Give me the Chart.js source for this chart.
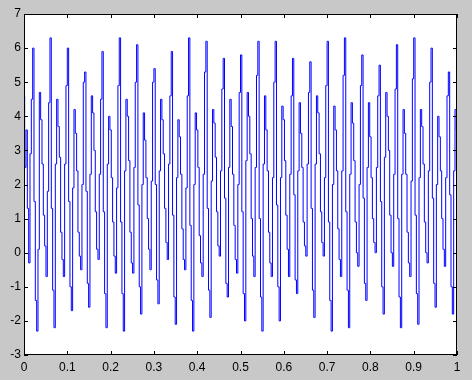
<!DOCTYPE html>
<html>
<head>
<meta charset="utf-8">
<script src="https://cdn.jsdelivr.net/npm/chart.js@4.4.0/dist/chart.umd.min.js"></script>
<style>
  body { margin: 0; background: #c8c8c8; }
  canvas { display: block; }
</style>
</head>
<body>
<canvas id="signalChart" width="472" height="380"></canvas>
<script>
// signal values, one sample every 1/325 s
const signal = [
  4.6, 2.5, 3.6, 1.3, -0.3, 2.9, 4.5,
  6.0, 1.5, -1.4, -2.3, 0.1, 4.7, 3.9, 2.6, 1.1, 0.2, -0.7, 1.8, 4.4,
  6.3, 1.3, -1.1, -2.2, 2.6, 4.5, 3.7, 2.8, 0.6, -0.2, -0.7, 2.6, 4.9,
  6.0, 1.5, -1.0, -1.7, 1.9, 4.2, 3.5, 2.4, 0.6, -0.1, -0.5, 2.0, 5.0,
  5.3, 1.8, -0.9, -1.6, 2.3, 4.6, 4.1, 3.0, 1.2, 0.1, -0.2, 2.3, 4.5,
  5.9, 1.2, -1.2, -2.2, 2.6, 4.0, 3.6, 2.2, 0.9, -0.1, -0.6, 1.9, 4.9,
  6.3, 0.9, -1.2, -2.3, 2.4, 4.5, 4.0, 2.7, 0.6, -0.3, -0.6, 2.5, 5.0,
  6.1, 1.4, -1.0, -1.8, 2.0, 4.1, 3.3, 2.2, 1.0, 0.1, -0.5, 2.1, 5.0,
  5.4, 2.0, -0.8, -1.5, 2.4, 4.5, 3.9, 2.9, 1.3, 0.3, -0.2, 2.6, 4.6,
  5.9, 1.1, -1.3, -2.1, 2.2, 3.9, 3.4, 2.3, 0.7, -0.2, -0.5, 1.9, 4.6,
  6.3, 0.8, -1.4, -2.3, 2.0, 4.1, 3.6, 2.5, 0.5, -0.3, -0.7, 2.3, 5.3,
  6.2, 1.3, -1.1, -1.9, 2.1, 4.2, 3.8, 2.8, 1.2, 0.2, -0.1, 2.4, 4.8,
  5.7, 1.6, -0.9, -1.3, 2.5, 4.5, 3.7, 2.3, 0.8, -0.2, -0.6, 2.0, 4.7,
  5.8, 1.2, -1.2, -2.0, 2.7, 4.7, 4.0, 2.9, 1.0, -0.1, -0.7, 2.5, 5.2,
  6.2, 1.0, -1.3, -2.3, 2.6, 4.6, 3.6, 2.4, 0.6, -0.3, -0.7, 2.2, 5.0,
  6.2, 1.4, -1.0, -2.0, 2.2, 4.3, 3.9, 2.7, 1.1, 0.1, -0.7, 2.3, 4.6,
  5.7, 1.7, -0.8, -1.2, 2.4, 4.4, 3.5, 2.5, 0.9, 0.2, -0.1, 2.6, 4.7,
  5.6, 1.3, -1.1, -1.9, 2.6, 4.6, 4.1, 2.9, 1.2, 0.3, -0.1, 2.2, 4.9,
  6.2, 0.9, -1.4, -2.3, 2.0, 4.3, 3.6, 2.4, 0.7, -0.2, -0.7, 2.4, 5.2,
  6.3, 1.2, -1.1, -2.2, 2.3, 4.4, 3.8, 2.7, 0.9, 0.0, -0.4, 2.0, 4.9,
  5.8, 1.6, -0.9, -1.4, 2.5, 4.4, 3.4, 2.2, 1.0, 0.3, 0.0, 2.5, 4.6,
  5.5, 1.5, -1.0, -1.8, 2.8, 4.7, 4.0, 3.0, 1.1, 0.0, -0.4, 2.3, 4.8,
  6.1, 1.0, -1.3, -2.2, 2.3, 4.2, 3.5, 2.3, 0.6, -0.3, -0.7, 2.1, 5.1,
  6.3, 1.1, -1.2, -2.1, 2.2, 4.2, 3.7, 2.6, 0.9, 0.0, -0.3, 2.4, 5.0,
  6.0, 1.6, -0.9, -1.6, 2.0, 4.0, 3.4, 2.4, 1.0, 0.1, -0.4, 2.2, 4.6,
  5.3, 1.7, -1.0, -1.8, 2.4, 4.2, 3.6
];
const sampleStep = 1 / 325;
const xTicks = [0, 0.1, 0.2, 0.3, 0.4, 0.5, 0.6, 0.7, 0.8, 0.9, 1];
const yTicks = [-3, -2, -1, 0, 1, 2, 3, 4, 5, 6, 7];

const points = signal.map((v, i) => ({ x: i * sampleStep, y: v }));

// grey figure + white axes box
const axesBackground = {
  id: 'axesBackground',
  beforeDraw(chart) {
    const { ctx, chartArea: a } = chart;
    ctx.save();
    ctx.fillStyle = '#c8c8c8';
    ctx.fillRect(0, 0, chart.width, chart.height);
    ctx.fillStyle = '#ffffff';
    ctx.fillRect(a.left, a.top, a.width, a.height);
    ctx.restore();
  }
};

// matlab style box with inward ticks on all four sides
const boxTicks = {
  id: 'boxTicks',
  afterDraw(chart) {
    const { ctx, chartArea: a, scales } = chart;
    const len = 4;
    ctx.save();
    ctx.strokeStyle = '#000';
    ctx.lineWidth = 1;
    ctx.beginPath();
    xTicks.forEach(t => {
      const px = Math.round(scales.x.getPixelForValue(t)) + 0.5;
      ctx.moveTo(px, a.bottom);
      ctx.lineTo(px, a.bottom - len);
      ctx.moveTo(px, a.top);
      ctx.lineTo(px, a.top + len);
    });
    yTicks.forEach(t => {
      const py = Math.round(scales.y.getPixelForValue(t)) + 0.5;
      ctx.moveTo(a.left, py);
      ctx.lineTo(a.left + len, py);
      ctx.moveTo(a.right, py);
      ctx.lineTo(a.right - len, py);
    });
    ctx.stroke();
    ctx.strokeRect(Math.round(a.left) + 0.5, Math.round(a.top) + 0.5,
      Math.round(a.width) - 1, Math.round(a.height) - 1);
    ctx.restore();
  }
};

new Chart(document.getElementById('signalChart'), {
  type: 'line',
  data: {
    datasets: [{
      data: points,
      borderColor: '#0000ff',
      borderWidth: 1,
      pointRadius: 0,
      stepped: 'middle', // dense samples show up as vertical strokes
      fill: false
    }]
  },
  options: {
    responsive: false,
    animation: false,
    layout: { padding: { top: 14, right: 15, left: 0, bottom: 0 } },
    plugins: { legend: { display: false }, tooltip: { enabled: false } },
    scales: {
      x: {
        type: 'linear',
        min: 0,
        max: 1,
        grid: { display: false, drawTicks: false },
        border: { display: false },
        afterFit: s => { s.height = 25; },
        afterBuildTicks: s => { s.ticks = xTicks.map(v => ({ value: v })); },
        ticks: {
          color: '#000',
          padding: 5,
          maxRotation: 0,
          font: { family: 'Liberation Sans', size: 12 },
          callback: v => String(+v.toFixed(1))
        }
      },
      y: {
        min: -3,
        max: 7,
        grid: { display: false, drawTicks: false },
        border: { display: false },
        afterFit: s => { s.width = 24; },
        afterBuildTicks: s => { s.ticks = yTicks.map(v => ({ value: v })); },
        ticks: {
          color: '#000',
          padding: 3,
          font: { family: 'Liberation Sans', size: 12 },
          callback: v => String(v)
        }
      }
    }
  },
  plugins: [axesBackground, boxTicks]
});
</script>
</body>
</html>
